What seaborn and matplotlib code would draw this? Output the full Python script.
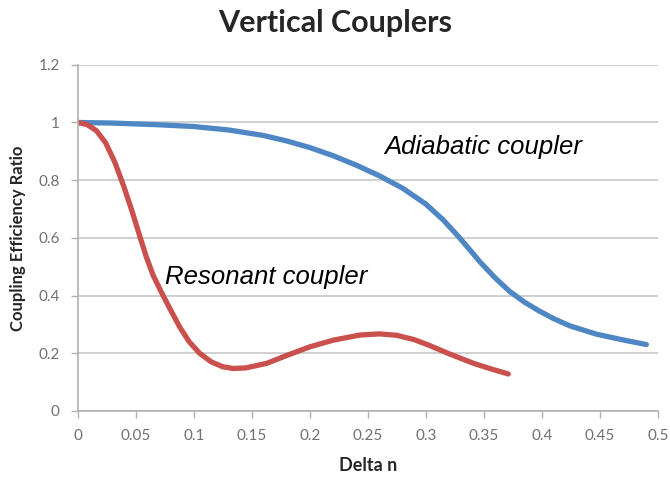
import matplotlib
matplotlib.use("Agg")
import matplotlib.pyplot as plt
import seaborn as sns
import pandas as pd

# values
adiabatic_x = [0.0, 0.03, 0.07, 0.10, 0.13, 0.16, 0.18, 0.20, 0.22, 0.24, 0.26, 0.28,
               0.30, 0.315, 0.328, 0.338, 0.347, 0.36, 0.372, 0.385, 0.397, 0.41,
               0.424, 0.447, 0.47, 0.49]
adiabatic_y = [1.0, 0.998, 0.992, 0.986, 0.974, 0.955, 0.936, 0.913, 0.885, 0.852, 0.815, 0.772,
               0.717, 0.662, 0.605, 0.558, 0.515, 0.46, 0.415, 0.377, 0.348, 0.32,
               0.295, 0.266, 0.246, 0.23]
resonant_x = [0.0, 0.008, 0.016, 0.024, 0.032, 0.04, 0.047, 0.053, 0.059, 0.065, 0.072,
              0.08, 0.088, 0.096, 0.105, 0.115, 0.125, 0.134, 0.145, 0.163, 0.18, 0.2,
              0.22, 0.243, 0.26, 0.275, 0.29, 0.303, 0.32, 0.341, 0.355, 0.371]
resonant_y = [1.0, 0.993, 0.972, 0.93, 0.862, 0.775, 0.69, 0.612, 0.535, 0.47, 0.412,
              0.35, 0.29, 0.24, 0.2, 0.17, 0.153, 0.147, 0.149, 0.165, 0.192, 0.222,
              0.245, 0.263, 0.267, 0.262, 0.247, 0.227, 0.198, 0.165, 0.147, 0.128]
x_ticks = [0, 0.05, 0.1, 0.15, 0.2, 0.25, 0.3, 0.35, 0.4, 0.45, 0.5]
x_tick_labels = ["0", "0.05", "0.1", "0.15", "0.2", "0.25", "0.3", "0.35", "0.4", "0.45", "0.5"]
y_ticks = [0, 0.2, 0.4, 0.6, 0.8, 1.0, 1.2]
y_tick_labels = ["0", "0.2", "0.4", "0.6", "0.8", "1", "1.2"]

df = pd.concat([
    pd.DataFrame({"dn": adiabatic_x, "eff": adiabatic_y, "coupler": "Adiabatic coupler"}),
    pd.DataFrame({"dn": resonant_x, "eff": resonant_y, "coupler": "Resonant coupler"}),
])

sns.set_theme(style="white")
plt.rcParams["font.family"] = ["Lato", "DejaVu Sans"]

fig = plt.figure(figsize=(6.7, 4.8), dpi=100)
ax = fig.add_axes([0.116, 0.144, 0.866, 0.721])

sns.lineplot(data=df, x="dn", y="eff", hue="coupler", sort=False, estimator=None,
             palette={"Adiabatic coupler": "#4F86C4", "Resonant coupler": "#C9504D"},
             linewidth=3.8, legend=False, ax=ax, solid_capstyle="round",
             solid_joinstyle="round")

ax.set_xlim(0, 0.5)
ax.set_ylim(0, 1.2)
ax.set_xticks(x_ticks)
ax.set_xticklabels(x_tick_labels)
ax.set_yticks(y_ticks)
ax.set_yticklabels(y_tick_labels)
ax.yaxis.grid(True, color="#c8c8c8", linewidth=1.2)
ax.set_axisbelow(True)
for side in ["top", "right"]:
    ax.spines[side].set_visible(False)
for side in ["left", "bottom"]:
    ax.spines[side].set_color("#b0b0b0")
    ax.spines[side].set_linewidth(1.2)
ax.tick_params(axis="both", which="major", direction="out", length=5, width=1,
               color="#b0b0b0", labelsize=11, labelcolor="#707070", pad=8)
ax.tick_params(axis="x", bottom=True)
ax.tick_params(axis="y", left=True)

ax.set_xlabel("Delta n", fontsize=13, fontweight="bold", labelpad=10)
ax.set_ylabel("Coupling Efficiency Ratio", fontsize=12, fontweight="bold", labelpad=9)
fig.text(0.5, 0.953, "Vertical Couplers", ha="center", va="center",
         fontsize=22, fontweight="bold")

ax.text(0.264, 0.915, "Adiabatic coupler", fontsize=18.5, style="italic",
        family=["Liberation Sans"], ha="left", va="center", color="black")
ax.text(0.075, 0.465, "Resonant coupler", fontsize=18.5, style="italic",
        family=["Liberation Sans"], ha="left", va="center", color="black")

fig.savefig("out.png", dpi=100)
